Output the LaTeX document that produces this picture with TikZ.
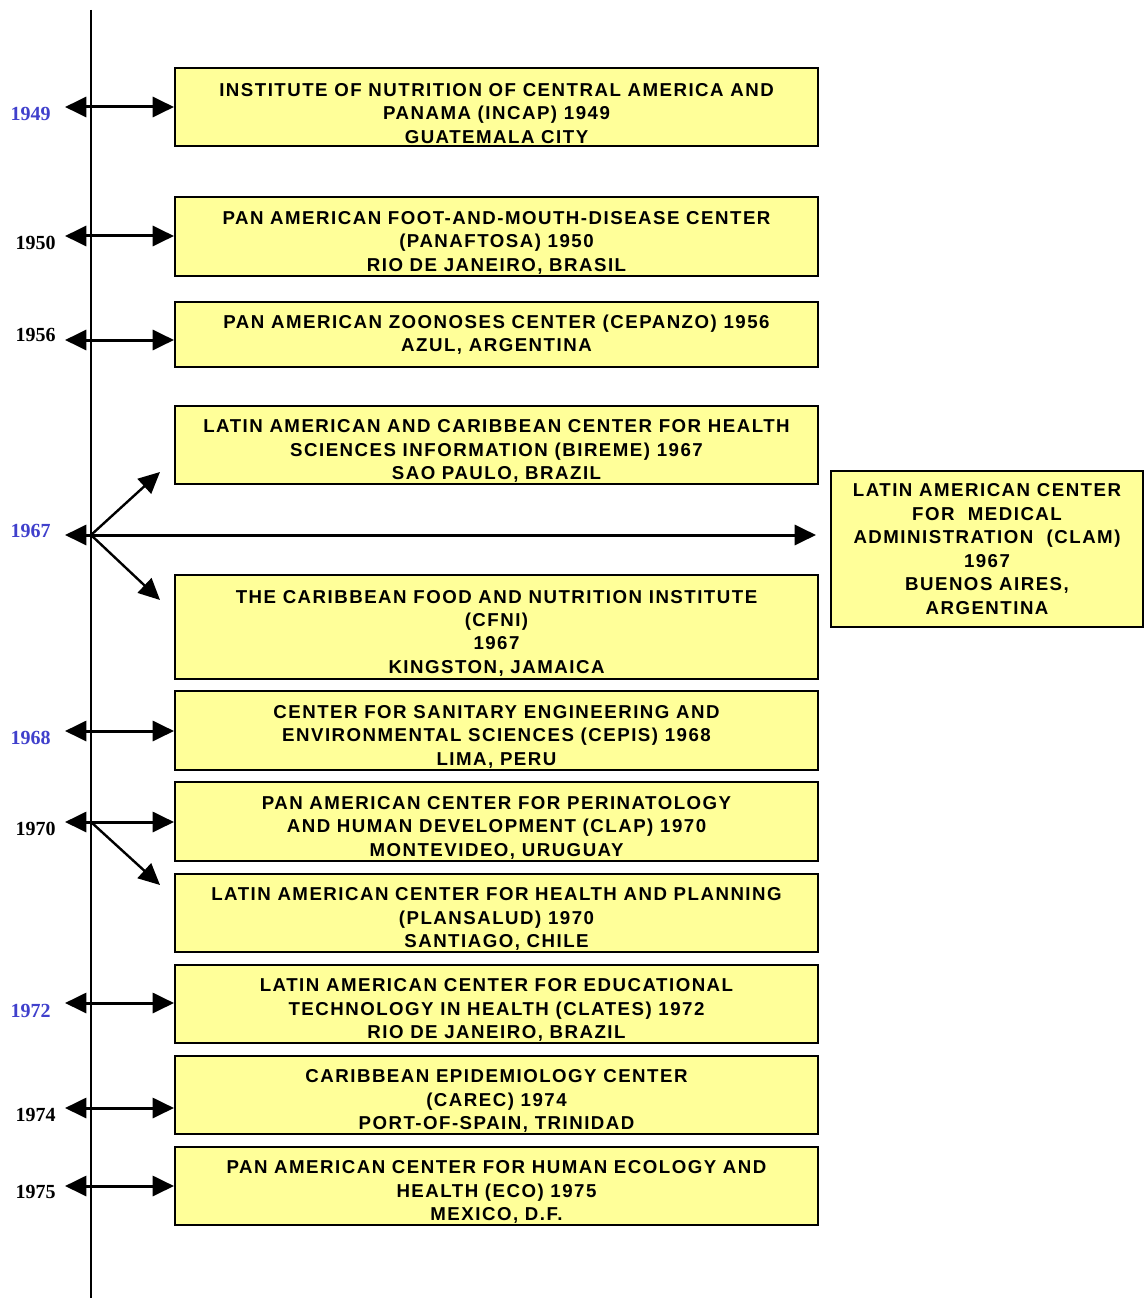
\documentclass[tikz,border=0pt]{standalone}
\usepackage{fontspec}
\setmainfont{Liberation Serif}
\newfontfamily\boxfont[LetterSpace=8]{Liberation Sans}
\usetikzlibrary{arrows.meta}
\definecolor{boxyellow}{RGB}{255,255,153}
\definecolor{yearblue}{RGB}{64,64,204}
\newcommand{\lowstrut}{\rule{0pt}{19pt}}
\tikzset{
  orgbox/.style={draw=black, line width=1.5pt, fill=boxyellow, minimum width=482.25pt,
    align=center, inner sep=0pt, font=\boxfont\bfseries\fontsize{14}{17.6}\selectfont},
  yearlbl/.style={anchor=east, inner sep=0pt, font=\bfseries\fontsize{15}{18}\selectfont},
  bothway/.style={line width=2.25pt, {Triangle[length=16pt,width=15pt]}-{Triangle[length=16pt,width=15pt]}},
  oneway/.style={line width=1.8pt, -{Triangle[length=16pt,width=15pt]}}
}
\begin{document}
\begin{tikzpicture}[x=0.75pt, y=-0.75pt]
		%%%%% START %%%%%
		\useasboundingbox (0, 0) rectangle (1143, 1298);
		
		\draw[line width=1.5pt] (91, 10) -- (91, 1298);
		
		% the centres
		\node[orgbox, minimum height=58.5pt] (incap) at (496.5, 107) {\lowstrut INSTITUTE OF NUTRITION OF CENTRAL AMERICA AND\\PANAMA (INCAP) 1949\\GUATEMALA CITY};
		\node[orgbox, minimum height=59.25pt] (panaftosa) at (496.5, 236.5) {\lowstrut PAN AMERICAN FOOT-AND-MOUTH-DISEASE CENTER\\(PANAFTOSA) 1950\\RIO DE JANEIRO, BRASIL};
		\node[orgbox, minimum height=48.75pt] (cepanzo) at (496.5, 334.5) {PAN AMERICAN ZOONOSES CENTER (CEPANZO) 1956\\AZUL, ARGENTINA};
		\node[orgbox, minimum height=58.5pt] (bireme) at (496.5, 445) {\lowstrut LATIN AMERICAN AND CARIBBEAN CENTER FOR HEALTH\\SCIENCES INFORMATION (BIREME) 1967\\SAO PAULO, BRAZIL};
		\node[orgbox, minimum height=78pt] (cfni) at (496.5, 627) {\lowstrut THE CARIBBEAN FOOD AND NUTRITION INSTITUTE\\(CFNI)\\1967\\KINGSTON, JAMAICA};
		\node[orgbox, minimum height=59.25pt] (cepis) at (496.5, 730.5) {\lowstrut CENTER FOR SANITARY ENGINEERING AND\\ENVIRONMENTAL SCIENCES (CEPIS) 1968\\LIMA, PERU};
		\node[orgbox, minimum height=59.25pt] (clap) at (496.5, 821.5) {\lowstrut PAN AMERICAN CENTER FOR PERINATOLOGY\\AND HUMAN DEVELOPMENT (CLAP) 1970\\MONTEVIDEO, URUGUAY};
		\node[orgbox, minimum height=58.5pt] (plansalud) at (496.5, 913) {\lowstrut LATIN AMERICAN CENTER FOR HEALTH AND PLANNING\\(PLANSALUD) 1970\\SANTIAGO, CHILE};
		\node[orgbox, minimum height=58.5pt] (clates) at (496.5, 1004) {\lowstrut LATIN AMERICAN CENTER FOR EDUCATIONAL\\TECHNOLOGY IN HEALTH (CLATES) 1972\\RIO DE JANEIRO, BRAZIL};
		\node[orgbox, minimum height=58.5pt] (carec) at (496.5, 1095) {\lowstrut CARIBBEAN EPIDEMIOLOGY CENTER\\(CAREC) 1974\\PORT-OF-SPAIN, TRINIDAD};
		\node[orgbox, minimum height=58.5pt] (eco) at (496.5, 1186) {\lowstrut PAN AMERICAN CENTER FOR HUMAN ECOLOGY AND\\HEALTH (ECO) 1975\\MEXICO, D.F.};
		\node[orgbox, minimum width=234pt, minimum height=117pt] (clam) at (987, 549) {LATIN AMERICAN CENTER\\FOR\ \ MEDICAL\\ADMINISTRATION\ \ (CLAM)\\1967\\BUENOS AIRES,\\ARGENTINA};
		
		% the years
		\node[yearlbl, color=yearblue] (l1949) at (51, 114) {1949};
		\node[yearlbl] (l1950) at (56, 243) {1950};
		\node[yearlbl] (l1956) at (56, 335) {1956};
		\node[yearlbl, color=yearblue] (l1967) at (51, 531) {1967};
		\node[yearlbl, color=yearblue] (l1968) at (51, 738) {1968};
		\node[yearlbl] (l1970) at (56, 829) {1970};
		\node[yearlbl, color=yearblue] (l1972) at (51, 1011) {1972};
		\node[yearlbl] (l1974) at (56, 1115) {1974};
		\node[yearlbl] (l1975) at (56, 1192) {1975};
		
		\coordinate (y1949) at (65, 107);
		\coordinate (y1950) at (65, 236);
		\coordinate (y1956) at (65, 340);
		\coordinate (y1967) at (65, 535);
		\coordinate (y1968) at (65, 731);
		\coordinate (y1970) at (65, 822);
		\coordinate (y1972) at (65, 1003);
		\coordinate (y1974) at (65, 1108);
		\coordinate (y1975) at (65, 1186);
		\coordinate (k1967) at (91, 535);
		\coordinate (k1970) at (91, 822);
		\coordinate (up1967) at (160, 472);
		\coordinate (dn1967) at (160, 600);
		\coordinate (dn1970) at (160, 885);
		
		\draw[bothway] (y1949) -- (y1949 -| incap.west);
		\draw[bothway] (y1950) -- (y1950 -| panaftosa.west);
		\draw[bothway] (y1956) -- (y1956 -| cepanzo.west);
		\draw[bothway] (y1967) -- ([xshift=-10.5pt]y1967 -| clam.west);
		\draw[oneway] (k1967) -- (up1967);
		\draw[oneway] (k1967) -- (dn1967);
		\draw[bothway] (y1968) -- (y1968 -| cepis.west);
		\draw[bothway] (y1970) -- (y1970 -| clap.west);
		\draw[oneway] (k1970) -- (dn1970);
		\draw[bothway] (y1972) -- (y1972 -| clates.west);
		\draw[bothway] (y1974) -- (y1974 -| carec.west);
		\draw[bothway] (y1975) -- (y1975 -| eco.west);
		
		%%%%% END %%%%%
\end{tikzpicture}
\end{document}
